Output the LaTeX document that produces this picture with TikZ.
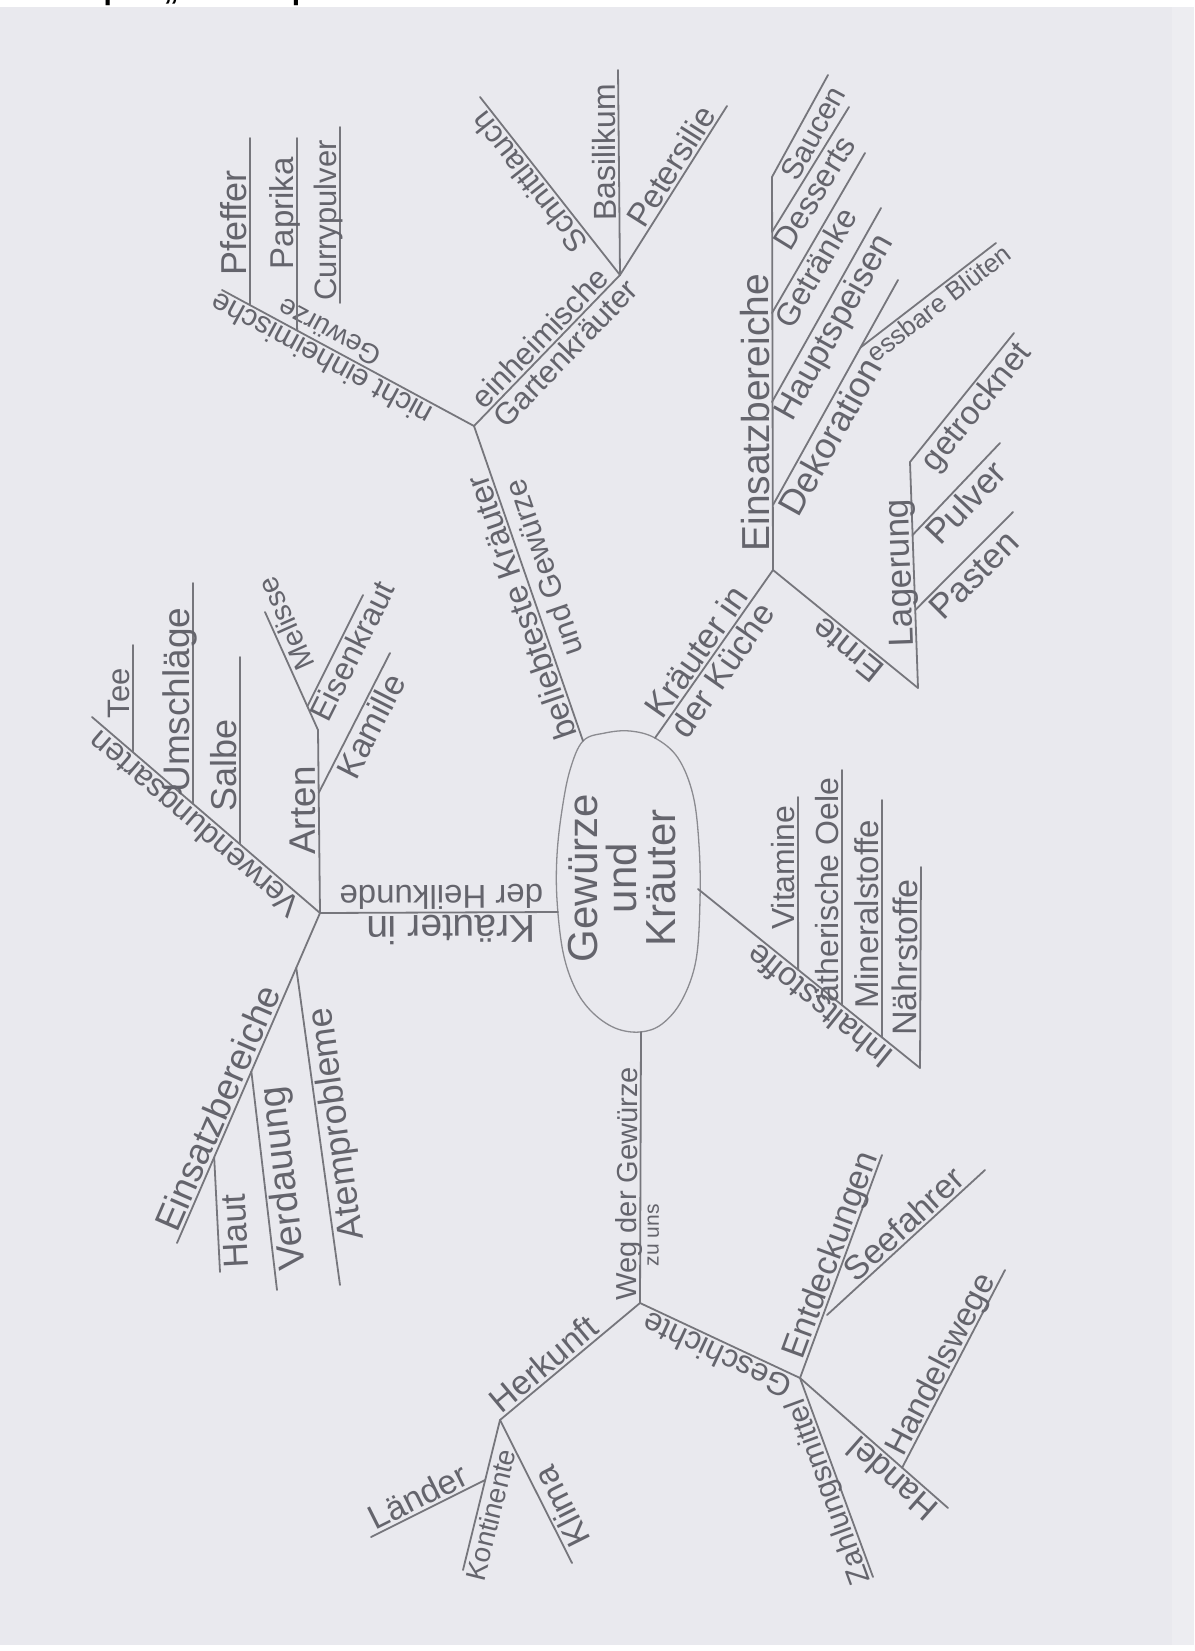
\documentclass[tikz,border=0pt]{standalone}
\usepackage{fontspec}
\setmainfont{Liberation Sans}
\usetikzlibrary{calc}
\definecolor{paper}{RGB}{233,233,238}
\definecolor{pencil}{RGB}{118,118,124}
\definecolor{pencilt}{RGB}{100,100,108}
\begin{document}
\begin{tikzpicture}[x=1pt,y=-1pt,
  br/.style={draw=pencil,line width=1.8pt,line cap=round,line join=round},
  oval/.style={draw=pencil!85!white,line width=1.3pt},
  lab/.style={sloped,allow upside down,text=pencilt,inner xsep=0pt,inner ysep=2.5pt},
  fs/.style={font=\fontsize{#1}{#1}\selectfont,text height=0.72*#1pt,text depth=0pt},
]
% background
\fill[white] (0,0) rectangle (1194,1651);
\fill[paper] (0,7) rectangle (1172,1645);
\fill[paper!80!white] (1172,7) rectangle (1194,1645);
\useasboundingbox (0,0) rectangle (1194,1651);
% cut-off title
\begin{scope}
\clip (0,0) rectangle (1194,7);
\node[anchor=base west,inner sep=0pt,font=\bfseries\fontsize{30}{30}\selectfont] (title) at (40,-0.5) {Beispiel „Mindmap“};
\end{scope}

% ---------- centre ----------
\draw[oval] plot[smooth cycle,tension=0.6] coordinates {(583,741) (605,733) (630,731) (655,738) (678,758) (693,795) (699,845) (700,900) (696,960) (682,1000) (662,1024) (640,1032) (615,1028) (592,1012) (575,988) (563,952) (557,900) (557,855) (562,810) (570,770)};
\node[rotate=90,align=center,text=pencilt,font=\fontsize{42}{39}\selectfont,inner sep=0pt] (ctext) at (622,878) {Gewürze\\und\\Kräuter};
\coordinate (E1) at (583,741);
\coordinate (E2) at (655,738);
\coordinate (E3) at (698,889);
\coordinate (E4) at (558,912);
\coordinate (E5) at (641,1032);

% ---------- beliebteste Kräuter und Gewürze ----------
\coordinate (J1) at (474,426);
\draw[br] (E1) -- node[lab,fs=33,pos=0.44,above] (l1) {beliebteste Kräuter}
                  node[lab,fs=31,pos=0.53,below,inner ysep=7pt] (l2) {und Gewürze} (J1);
\coordinate (N1) at (222,290);
\draw[br] (J1) -- node[lab,fs=30,pos=0.58,above] (l3) {nicht einheimische}
                  node[lab,fs=28,pos=0.6,below] (l4) {Gewürze} (N1);
\coordinate (P0) at ($(J1)!0.889!(N1)$); \coordinate (P1) at (250,138);
\draw[br] (P0) -- node[lab,fs=36,pos=0.49,above] (l5) {Pfeffer} (P1);
\coordinate (Q0) at ($(J1)!0.702!(N1)$); \coordinate (Q1) at (297,138);
\draw[br] (Q0) -- node[lab,fs=33,pos=0.61,above] (l6) {Paprika} (Q1);
\coordinate (R0) at (340,303); \coordinate (R1) at (340,127);
\draw[br] (R0) -- node[lab,fs=31,pos=0.47,above] (l7) {Currypulver} (R1);
\coordinate (J2) at (620,275);
\draw[br] (J1) -- node[lab,fs=31,pos=0.52,above] (l8) {einheimische}
                  node[lab,fs=31,pos=0.55,below] (l9) {Gartenkräuter} (J2);
\coordinate (S1) at (480,97);
\draw[br] (J2) -- node[lab,fs=31,pos=0.57,above] (l10) {Schnittlauch} (S1);
\coordinate (B1) at (618,70);
\draw[br] (J2) -- node[lab,fs=32,pos=0.6,above] (l11) {Basilikum} (B1);
\coordinate (Pe1) at (727,106);
\draw[br] (J2) -- node[lab,fs=33,pos=0.595,above] (l12) {Petersilie} (Pe1);

% ---------- Kräuter in der Küche ----------
\coordinate (J3) at (773,570);
\draw[br] (E2) -- node[lab,fs=35,pos=0.46,above] (l13) {Kräuter in}
                  node[lab,fs=34,pos=0.46,below] (l14) {der Küche} (J3);
\coordinate (K1) at (772,177);
\draw[br] (J3) -- node[lab,fs=39,pos=0.40,above] (l15) {Einsatzbereiche} (K1);
\coordinate (K2) at (828,75);
\draw[br] (K1) -- node[lab,fs=30,pos=0.5,below] (l16) {Saucen} (K2);
\coordinate (D0) at (772,232); \coordinate (D1) at (849,107);
\draw[br] (D0) -- node[lab,fs=32,pos=0.38,below] (l17) {Desserts} (D1);
\coordinate (G0) at (772,313); \coordinate (G1) at (865,153);
\draw[br] (G0) -- node[lab,fs=32,pos=0.33,below] (l18) {Getränke} (G1);
\coordinate (H0) at (772,402); \coordinate (H1) at (881,208);
\draw[br] (H0) -- node[lab,fs=34,pos=0.43,below] (l19) {Hauptspeisen} (H1);
\coordinate (De0) at (773,505); \coordinate (De1) at (898,280);
\draw[br] (De0) -- node[lab,fs=36,pos=0.34,below] (l20) {Dekoration} (De1);
\coordinate (Es0) at ($(De0)!0.70!(De1)$); \coordinate (Es1) at (996,243);
\draw[br] (Es0) -- node[lab,fs=26,pos=0.52,below] (l21) {essbare Blüten} (Es1);
\coordinate (J4) at (918,688);
\draw[br] (J4) -- node[lab,fs=34,pos=0.42,above] (l22) {Ernte} (J3);
\coordinate (L1) at (910,462);
\draw[br] (J4) -- node[lab,fs=35,pos=0.51,above] (l23) {Lagerung} (L1);
\coordinate (L2) at (1014,333);
\draw[br] (L1) -- node[lab,fs=33,pos=0.51,below] (l24) {getrocknet} (L2);
\coordinate (Pu0) at ($(J4)!0.677!(L1)$); \coordinate (Pu1) at (1000,443);
\draw[br] (Pu0) -- node[lab,fs=35,pos=0.475,below] (l25) {Pulver} (Pu1);
\coordinate (Pa0) at ($(J4)!0.345!(L1)$); \coordinate (Pa1) at (1013,512);
\draw[br] (Pa0) -- node[lab,fs=35,pos=0.48,below] (l26) {Pasten} (Pa1);

% ---------- Inhaltsstoffe ----------
\coordinate (I1) at (920,1068);
\draw[br] (I1) -- node[lab,fs=33,pos=0.41,above] (l27) {Inhaltsstoffe} (E3);
\coordinate (V0) at ($(E3)!0.451!(I1)$); \coordinate (V1) at (798,797);
\draw[br] (V0) -- node[lab,fs=32,pos=0.59,above] (l28) {Vitamine} (V1);
\coordinate (Ae0) at ($(E3)!0.649!(I1)$); \coordinate (Ae1) at (842,770);
\draw[br] (Ae0) -- node[lab,fs=32,pos=0.49,above] (l29) {ätherische Oele} (Ae1);
\coordinate (Mi0) at ($(E3)!0.829!(I1)$); \coordinate (Mi1) at (882,800);
\draw[br] (Mi0) -- node[lab,fs=33,pos=0.52,above] (l30) {Mineralstoffe} (Mi1);
\coordinate (Na1) at (921,867);
\draw[br] (I1) -- node[lab,fs=34,pos=0.55,above] (l31) {Nährstoffe} (Na1);

% ---------- Kräuter in der Heilkunde ----------
\coordinate (J5) at (320,913);
\draw[br] (E4) -- node[lab,fs=39,pos=0.45,above] (l32) {Kräuter in}
                  node[lab,fs=33,pos=0.49,below] (l33) {der Heilkunde} (J5);
\coordinate (A1) at (318,730);
\draw[br] (J5) -- node[lab,fs=37,pos=0.56,above] (l34) {Arten} (A1);
\coordinate (Me1) at (265,612);
\draw[br] (A1) -- node[lab,fs=29,pos=0.85,below] (l35) {Melisse} (Me1);
\coordinate (Ei0) at ($(A1)!0.2!(Me1)$); \coordinate (Ei1) at (363,595);
\draw[br] (Ei0) -- node[lab,fs=32,pos=0.56,below] (l36) {Eisenkraut} (Ei1);
\coordinate (Ka0) at ($(J5)!0.656!(A1)$); \coordinate (Ka1) at (390,653);
\draw[br] (Ka0) -- node[lab,fs=34,pos=0.53,below] (l37) {Kamille} (Ka1);
\coordinate (Vw1) at (92,717);
\draw[br] (J5) -- node[lab,fs=32,pos=0.51,above] (l38) {Verwendungsarten} (Vw1);
\coordinate (T0) at ($(J5)!0.82!(Vw1)$); \coordinate (T1) at (133,645);
\draw[br] (T0) -- node[lab,fs=31,pos=0.55,above] (l39) {Tee} (T1);
\coordinate (U0) at ($(J5)!0.557!(Vw1)$); \coordinate (U1) at (193,583);
\draw[br] (U0) -- node[lab,fs=37,pos=0.47,above] (l40) {Umschläge} (U1);
\coordinate (Sa0) at ($(J5)!0.351!(Vw1)$); \coordinate (Sa1) at (240,657);
\draw[br] (Sa0) -- node[lab,fs=36,pos=0.42,above] (l41) {Salbe} (Sa1);
\coordinate (Eb1) at (177,1243);
\draw[br] (Eb1) -- node[lab,fs=37,pos=0.39,above] (l42) {Einsatzbereiche} (J5);
\coordinate (Ha0) at ($(Eb1)!0.26!(J5)$); \coordinate (Ha1) at (220,1272);
\draw[br] (Ha1) -- node[lab,fs=35,pos=0.35,below] (l43) {Haut} (Ha0);
\coordinate (Vd0) at ($(Eb1)!0.52!(J5)$); \coordinate (Vd1) at (277,1290);
\draw[br] (Vd1) -- node[lab,fs=38,pos=0.50,below] (l44) {Verdauung} (Vd0);
\coordinate (At0) at ($(Eb1)!0.834!(J5)$); \coordinate (At1) at (340,1285);
\draw[br] (At1) -- node[lab,fs=36,pos=0.50,below] (l45) {Atemprobleme} (At0);

% ---------- Weg der Gewürze zu uns ----------
\coordinate (J6) at (640,1303);
\draw[br] (J6) -- node[lab,fs=29,pos=0.44,above] (l46) {Weg der Gewürze}
                  node[lab,fs=21,pos=0.25,below] (l47) {zu uns} (E5);
\coordinate (J7) at (500,1420);
\draw[br] (J7) -- node[lab,fs=34,pos=0.38,above] (l48) {Herkunft} (J6);
\coordinate (Ko1) at (463,1570);
\draw[br] (Ko1) -- node[lab,fs=28,pos=0.39,below] (l49) {Kontinente} (J7);
\coordinate (La0) at (371,1537); \coordinate (La1) at ($(J7)!0.4!(Ko1)$);
\draw[br] (La0) -- node[lab,fs=34,pos=0.47,above] (l50) {Länder} (La1);
\coordinate (Kl1) at (572,1563);
\draw[br] (Kl1) -- node[lab,fs=34,pos=0.34,below] (l51) {Klima} (J7);
\coordinate (J8) at (800,1378);
\draw[br] (J8) -- node[lab,fs=32,pos=0.48,above] (l52) {Geschichte} (J6);
\coordinate (En1) at (882,1155);
\draw[br] (J8) -- node[lab,fs=34,pos=0.53,above] (l53) {Entdeckungen} (En1);
\coordinate (Se0) at (827,1315); \coordinate (Se1) at (985,1170);
\draw[br] (Se0) -- node[lab,fs=34,pos=0.55,above] (l54) {Seefahrer} (Se1);
\coordinate (Za1) at (873,1577);
\draw[br] (Za1) -- node[lab,fs=30,pos=0.45,above] (l55) {Zahlungsmittel} (J8);
\coordinate (Hd1) at (948,1508);
\draw[br] (Hd1) -- node[lab,fs=34,pos=0.31,above] (l56) {Handel} (J8);
\coordinate (Hw0) at ($(J8)!0.69!(Hd1)$); \coordinate (Hw1) at (1005,1270);
\draw[br] (Hw0) -- node[lab,fs=33,pos=0.49,above] (l57) {Handelswege} (Hw1);
\end{tikzpicture}
\end{document}
